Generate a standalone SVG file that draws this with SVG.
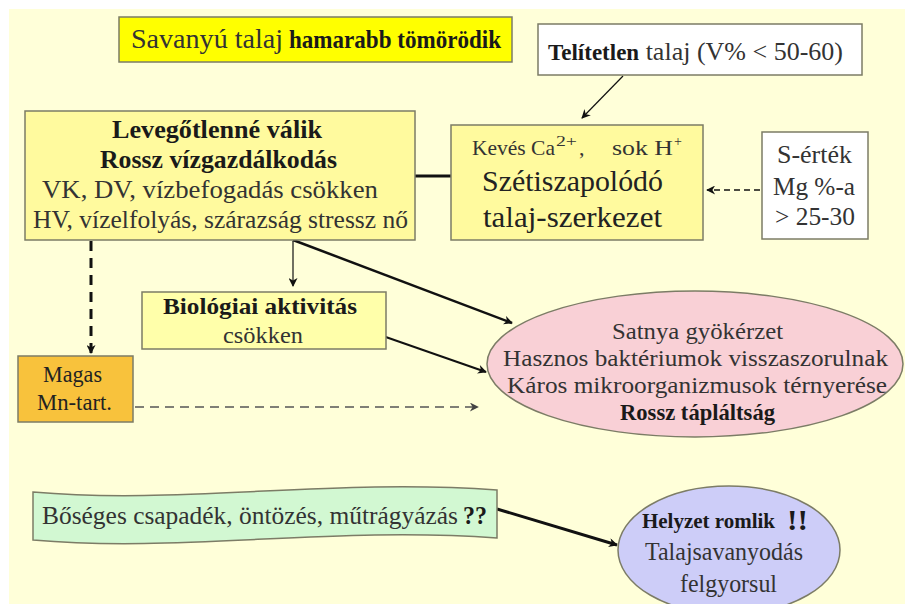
<svg xmlns="http://www.w3.org/2000/svg" width="905" height="604" viewBox="0 0 905 604">
<style>
text{font-family:'Liberation Serif','Times New Roman',serif;fill:#222}
.b{font-weight:bold;fill:#1a1a1a}
.g{fill:#333}
.box{stroke:#7c7c66;stroke-width:1.5}
.ln{stroke:#111;fill:none}
</style>
<defs>
<marker id="ah" viewBox="0 0 10 10" refX="9" refY="5" markerWidth="10" markerHeight="9" markerUnits="userSpaceOnUse" orient="auto">
<path d="M0,0 L10,5 L0,10 L3,5 Z" fill="#111"/>
</marker>
<marker id="ahg" viewBox="0 0 10 10" refX="9" refY="5" markerWidth="10" markerHeight="9" markerUnits="userSpaceOnUse" orient="auto">
<path d="M0,0 L10,5 L0,10 L3,5 Z" fill="#444"/>
</marker>
</defs>
<rect x="0" y="0" width="905" height="604" fill="#ffffff"/>
<rect x="9" y="9" width="896" height="595" fill="#ffffd9"/>

<g id="connectors">
<line class="ln" x1="623" y1="76" x2="582" y2="118" stroke-width="1.2" marker-end="url(#ah)"/>
<line class="ln" x1="463" y1="176" x2="397" y2="176" stroke-width="3" marker-end="url(#ah)"/>
<line class="ln" x1="760" y1="190" x2="707" y2="190" stroke-width="1.6" stroke-dasharray="6,4" marker-end="url(#ah)"/>
<line class="ln" x1="91" y1="241" x2="91" y2="353" stroke-width="3" stroke-dasharray="10,7" marker-end="url(#ah)"/>
<line class="ln" x1="293" y1="241" x2="293" y2="286" stroke-width="1.2" marker-end="url(#ah)"/>
<line class="ln" x1="293" y1="240" x2="512" y2="323" stroke-width="2.5" marker-end="url(#ah)"/>
<line class="ln" x1="380" y1="335" x2="486" y2="372" stroke-width="2" marker-end="url(#ah)"/>
<line x1="135" y1="407" x2="478" y2="407" stroke="#555" stroke-width="1.5" stroke-dasharray="9,6" marker-end="url(#ahg)"/>
<line class="ln" x1="497" y1="509" x2="617" y2="545" stroke-width="3" marker-end="url(#ah)"/>
</g>

<g id="savanyu">
<rect class="box" x="119" y="17" width="393" height="45" fill="#ffff00"/>
<text x="131" y="48" font-size="27" textLength="152" lengthAdjust="spacingAndGlyphs" class="g">Savanyú talaj</text>
<text x="289" y="48" font-size="26" class="b" textLength="212" lengthAdjust="spacingAndGlyphs">hamarabb tömörödik</text>
</g>

<g id="telitetlen">
<rect class="box" x="538" y="24" width="324" height="51" fill="#ffffff"/>
<text x="548" y="60" font-size="23" class="g"><tspan class="b">Telítetlen</tspan><tspan font-size="26"> talaj (V% &lt; 50-60)</tspan></text>
</g>

<g id="levegotlen">
<rect class="box" x="25" y="111" width="390" height="129" fill="#fffa9e"/>
<text x="112" y="138" font-size="26" class="b" textLength="210" lengthAdjust="spacingAndGlyphs">Levegőtlenné válik</text>
<text x="100" y="168" font-size="26" class="b" textLength="237" lengthAdjust="spacingAndGlyphs">Rossz vízgazdálkodás</text>
<text x="42" y="198" font-size="26" class="g" textLength="336" lengthAdjust="spacingAndGlyphs">VK, DV, vízbefogadás csökken</text>
<text x="33" y="228" font-size="26" class="g" textLength="375" lengthAdjust="spacingAndGlyphs">HV, vízelfolyás, szárazság stressz nő</text>
</g>

<g id="szetiszapolodo">
<rect class="box" x="451" y="125" width="252" height="115" fill="#fffa9e"/>
<text x="472" y="155" font-size="22" class="g" textLength="83" lengthAdjust="spacingAndGlyphs">Kevés Ca</text>
<text x="556" y="146" font-size="14" class="g" textLength="21" lengthAdjust="spacingAndGlyphs">2+</text>
<text x="579" y="155" font-size="22" class="g">,</text>
<text x="612" y="155" font-size="22" class="g" textLength="61" lengthAdjust="spacingAndGlyphs">sok H</text>
<text x="674" y="146" font-size="14" class="g">+</text>
<text x="482" y="191" font-size="30" textLength="181" lengthAdjust="spacingAndGlyphs">Szétiszapolódó</text>
<text x="483" y="227" font-size="30" textLength="179" lengthAdjust="spacingAndGlyphs">talaj-szerkezet</text>
</g>

<g id="sertek">
<rect class="box" x="762" y="132" width="106" height="107" fill="#ffffff"/>
<text x="777" y="163" font-size="25" class="g" textLength="75" lengthAdjust="spacingAndGlyphs">S-érték</text>
<text x="773" y="195" font-size="25" class="g" textLength="82" lengthAdjust="spacingAndGlyphs">Mg %-a</text>
<text x="775" y="225" font-size="25" class="g" textLength="80" lengthAdjust="spacingAndGlyphs">&gt; 25-30</text>
</g>

<g id="biologiai">
<rect class="box" x="142" y="292" width="244" height="57" fill="#ffffaa"/>
<text x="163" y="314" font-size="24" class="b" textLength="194" lengthAdjust="spacingAndGlyphs">Biológiai aktivitás</text>
<text x="223" y="343" font-size="24" class="g" textLength="80" lengthAdjust="spacingAndGlyphs">csökken</text>
</g>

<g id="magas">
<rect class="box" x="18" y="356" width="115" height="66" fill="#f8c23c"/>
<text x="43" y="382" font-size="23" textLength="59" lengthAdjust="spacingAndGlyphs">Magas</text>
<text x="37" y="410" font-size="23" textLength="75" lengthAdjust="spacingAndGlyphs">Mn-tart.</text>
</g>

<g id="kovetkezmenyek">
<ellipse class="box" cx="695" cy="364" rx="208" ry="73" fill="#f9d0d6"/>
<text x="612" y="339" font-size="24" class="g" textLength="171" lengthAdjust="spacingAndGlyphs">Satnya gyökérzet</text>
<text x="503" y="366" font-size="24" class="g" textLength="385" lengthAdjust="spacingAndGlyphs">Hasznos baktériumok visszaszorulnak</text>
<text x="507" y="393" font-size="24" class="g" textLength="380" lengthAdjust="spacingAndGlyphs">Káros mikroorganizmusok térnyerése</text>
<text x="620" y="420" font-size="23" class="b" textLength="155" lengthAdjust="spacingAndGlyphs">Rossz tápláltság</text>
</g>

<g id="boseges">
<path class="box" d="M33,492 C180,505 330,478 497,490 L497,538 C330,526 180,553 33,540 Z" fill="#d2f8d2"/>
<text x="42" y="524" font-size="25" class="g" textLength="416" lengthAdjust="spacingAndGlyphs">Bőséges csapadék, öntözés, műtrágyázás</text>
<text x="463" y="524" font-size="25" class="b" textLength="24" lengthAdjust="spacingAndGlyphs">??</text>
</g>

<g id="helyzet">
<ellipse class="box" cx="729" cy="550" rx="111" ry="64" fill="#cdcdf8"/>
<text x="642" y="528" font-size="21" class="b" textLength="133" lengthAdjust="spacingAndGlyphs">Helyzet romlik</text>
<text x="787" y="530" font-size="30" class="b" textLength="21" lengthAdjust="spacingAndGlyphs">!!</text>
<text x="645" y="560" font-size="25" class="g" textLength="158" lengthAdjust="spacingAndGlyphs">Talajsavanyodás</text>
<text x="680" y="592" font-size="25" class="g" textLength="97" lengthAdjust="spacingAndGlyphs">felgyorsul</text>
</g>
</svg>
